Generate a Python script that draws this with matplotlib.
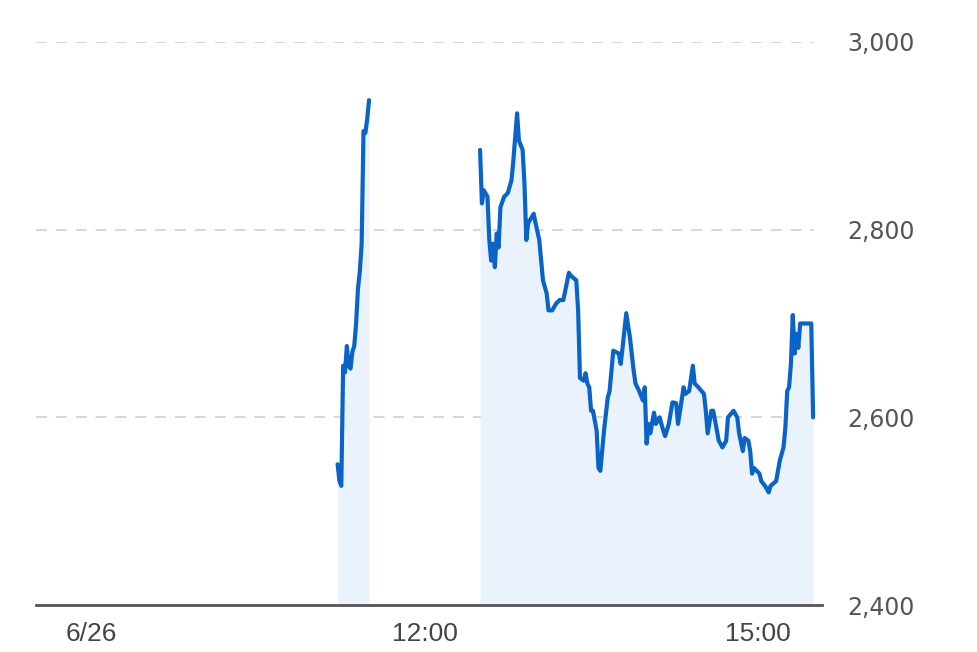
import numpy as np
import matplotlib
matplotlib.use("Agg")
import matplotlib.pyplot as plt

# morning session: minutes after 11:00, price
am_minutes = [13, 14, 15, 16, 17, 18, 19, 20, 21, 22, 23, 24, 25, 26, 27, 28, 29, 30]
am_prices = [2550, 2532, 2527, 2655, 2648, 2676, 2655, 2652, 2670, 2676, 2700,
             2737, 2755, 2785, 2905, 2903, 2918, 2938]

# afternoon session: minutes after 12:30, price
pm_minutes = [0, 1, 2, 4, 5, 6, 7, 8, 9, 10, 11, 13, 15, 17, 18, 20, 21, 23, 24, 25,
              26, 29, 30, 32, 34, 36, 37, 39, 41, 43, 45, 48, 49, 52, 53, 54, 56, 57,
              58, 59, 60, 61, 63, 64, 65, 67, 69, 70, 72, 75, 76, 77, 79, 81, 83, 84,
              86, 88, 89, 90, 91, 92, 94, 95, 97, 99, 100, 102, 104, 106, 107, 110,
              111, 113, 115, 116, 118, 121, 122, 123, 125, 126, 128, 129, 131, 133,
              134, 137, 139, 140, 142, 143, 145, 146, 147, 148, 151, 152, 154, 156,
              157, 160, 162, 164, 165, 166, 167, 168, 169, 170, 171, 172, 173, 179, 180]
pm_prices = [2885, 2828, 2842, 2835, 2789, 2767, 2785, 2760, 2796, 2781, 2824, 2835,
             2839, 2853, 2874, 2924, 2895, 2885, 2849, 2789, 2807, 2817, 2807, 2789,
             2746, 2732, 2714, 2714, 2721, 2725, 2725, 2754, 2751, 2746, 2714, 2642,
             2639, 2647, 2636, 2632, 2607, 2607, 2586, 2546, 2543, 2586, 2621, 2628,
             2671, 2668, 2657, 2674, 2711, 2685, 2650, 2636, 2628, 2618, 2632, 2572,
             2593, 2583, 2605, 2593, 2600, 2586, 2580, 2593, 2616, 2615, 2593, 2632,
             2625, 2628, 2655, 2636, 2632, 2625, 2607, 2583, 2607, 2607, 2586, 2575,
             2568, 2575, 2600, 2607, 2600, 2583, 2564, 2578, 2575, 2564, 2540, 2546,
             2540, 2532, 2527, 2520, 2527, 2532, 2554, 2568, 2589, 2628, 2632, 2657,
             2709, 2668, 2689, 2674, 2700, 2700, 2600]

tick_hours = [9, 12, 15]
tick_labels = ["6/26", "12:00", "15:00"]
y_ticks = [2400, 2600, 2800, 3000]

line_color = "#0A64C8"
fill_color = "#EAF2FB"
y_min, y_max = 2400, 3000

am_x = 11 + np.array(am_minutes) / 60
pm_x = 12.5 + np.array(pm_minutes) / 60

fig = plt.figure(figsize=(9.77, 6.52), dpi=100)
ax = fig.add_axes([36 / 977, 1 - 605 / 652, (822 - 36) / 977, (605 - 42) / 652])

for xs, ys in [(am_x, am_prices), (pm_x, pm_prices)]:
    ax.fill_between(xs, ys, y_min, color=fill_color, linewidth=0, zorder=1)
    ax.plot(xs, ys, color=line_color, linewidth=3.0, solid_joinstyle="round",
            solid_capstyle="round", zorder=3)

ax.set_xlim(8.5, 15.58)
ax.set_ylim(y_min, y_max)

ax.set_xticks(tick_hours)
ax.set_xticklabels(tick_labels, fontsize=19, family="Liberation Sans", color="#444444")
ax.set_yticks(y_ticks)
ax.set_yticklabels([f"{v:,}" for v in y_ticks], fontsize=17, family="DejaVu Sans",
                   color="#555555")
ax.yaxis.tick_right()
ax.tick_params(axis="y", length=0, pad=18)
ax.tick_params(axis="x", length=0, pad=12)

for v in y_ticks[1:]:
    ax.axhline(v, color="#D3D3D3", linestyle=(0, (6, 5)), linewidth=1.3, zorder=0,
               xmax=0.99)

for s in ["top", "right", "left"]:
    ax.spines[s].set_visible(False)
ax.spines["bottom"].set_color("#555555")
ax.spines["bottom"].set_linewidth(2)
ax.spines["bottom"].set_zorder(4)

fig.savefig("out.png", dpi=100, facecolor="white")
